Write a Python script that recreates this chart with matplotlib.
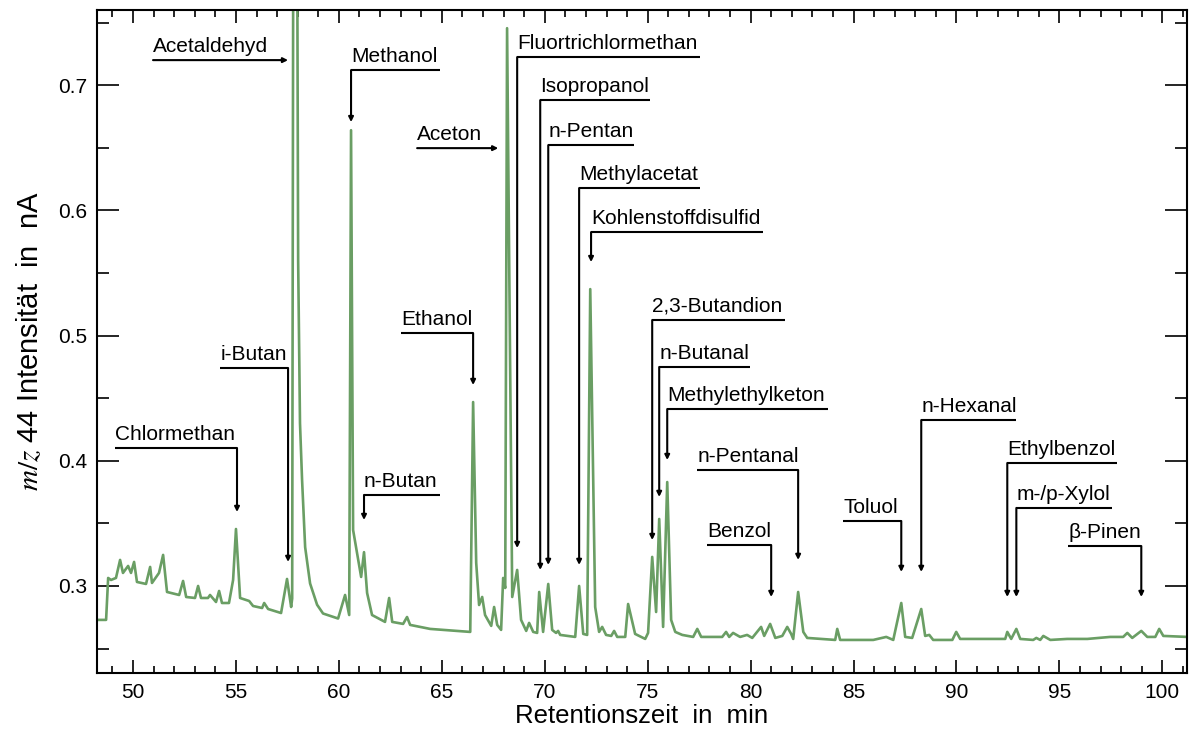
import matplotlib.pyplot as plt
from matplotlib.ticker import MultipleLocator

plt.rcParams['font.family'] = ['Liberation Sans', 'DejaVu Sans']
plt.rcParams['mathtext.fontset'] = 'stix'

# chromatogram trace (retention time in min, m/z 44 signal in nA)
rt = [48.20, 48.69, 48.79, 48.93, 49.17, 49.37, 49.51, 49.76, 49.90, 50.05,
      50.19, 50.63, 50.83, 50.92, 51.26, 51.46, 51.65, 52.24, 52.43, 52.58,
      53.01, 53.16, 53.30, 53.64, 53.74, 54.03, 54.18, 54.32, 54.66, 54.86,
      55.00, 55.20, 55.64, 55.83, 56.27, 56.37, 56.56, 57.19, 57.48, 57.68,
      57.73, 57.80, 57.94, 58.02, 58.11, 58.21, 58.36, 58.60, 58.94, 59.23,
      59.96, 60.30, 60.50, 60.59, 60.69, 61.08, 61.22, 61.37, 61.61, 62.24,
      62.44, 62.59, 63.12, 63.31, 63.46, 64.43, 66.38, 66.52, 66.67, 66.81,
      66.96, 67.10, 67.40, 67.54, 67.69, 67.88, 67.98, 68.08, 68.17, 68.42,
      68.66, 68.85, 69.10, 69.24, 69.44, 69.63, 69.73, 69.92, 70.17, 70.36,
      70.55, 70.65, 70.75, 71.48, 71.67, 71.87, 72.06, 72.21, 72.45, 72.64,
      72.79, 72.98, 73.23, 73.37, 73.52, 73.91, 74.05, 74.20, 74.39, 74.88,
      75.02, 75.22, 75.41, 75.56, 75.75, 75.95, 76.14, 76.34, 76.68, 77.21,
      77.41, 77.60, 78.62, 78.81, 78.96, 79.15, 79.49, 79.83, 80.08, 80.51,
      80.66, 80.95, 81.20, 81.54, 81.78, 81.97, 82.07, 82.31, 82.56, 82.75,
      84.11, 84.21, 84.35, 85.18, 85.96, 86.59, 86.93, 87.32, 87.51, 87.85,
      88.29, 88.48, 88.68, 88.87, 89.80, 89.99, 90.18, 92.37, 92.47, 92.66,
      92.91, 93.10, 93.73, 93.88, 94.07, 94.22, 94.56, 95.38, 96.36, 97.47,
      98.10, 98.30, 98.54, 98.98, 99.27, 99.66, 99.85, 100.05, 101.21]
signal = [0.2729, 0.2729, 0.3064, 0.3048, 0.3064, 0.3208, 0.3104, 0.3160, 0.3104, 0.3192,
          0.3032, 0.3016, 0.3152, 0.3024, 0.3104, 0.3248, 0.2952, 0.2928, 0.3040, 0.2912,
          0.2904, 0.3000, 0.2904, 0.2904, 0.2928, 0.2872, 0.2960, 0.2864, 0.2864, 0.3048,
          0.3455, 0.2904, 0.2880, 0.2840, 0.2824, 0.2864, 0.2816, 0.2784, 0.3056, 0.2832,
          0.2900, 1.0000, 1.0000, 0.5600, 0.4300, 0.3850, 0.3310, 0.3020, 0.2850, 0.2780,
          0.2740, 0.2928, 0.2768, 0.6640, 0.3447, 0.3072, 0.3270, 0.2944, 0.2768, 0.2713,
          0.2904, 0.2713, 0.2697, 0.2752, 0.2689, 0.2657, 0.2633, 0.4469, 0.3184, 0.2848,
          0.2912, 0.2768, 0.2681, 0.2832, 0.2689, 0.2649, 0.3064, 0.2984, 0.7455, 0.2912,
          0.3128, 0.2729, 0.2641, 0.2705, 0.2633, 0.2625, 0.2952, 0.2633, 0.3016, 0.2649,
          0.2625, 0.2641, 0.2609, 0.2593, 0.3000, 0.2617, 0.2609, 0.5371, 0.2832, 0.2633,
          0.2673, 0.2609, 0.2601, 0.2641, 0.2593, 0.2593, 0.2856, 0.2752, 0.2617, 0.2577,
          0.2625, 0.3232, 0.2792, 0.3535, 0.2673, 0.3830, 0.2729, 0.2633, 0.2609, 0.2593,
          0.2657, 0.2593, 0.2593, 0.2633, 0.2593, 0.2625, 0.2593, 0.2609, 0.2585, 0.2673,
          0.2601, 0.2697, 0.2585, 0.2601, 0.2673, 0.2617, 0.2577, 0.2952, 0.2633, 0.2585,
          0.2569, 0.2657, 0.2569, 0.2569, 0.2569, 0.2593, 0.2569, 0.2864, 0.2593, 0.2585,
          0.2816, 0.2601, 0.2609, 0.2569, 0.2569, 0.2633, 0.2577, 0.2577, 0.2633, 0.2577,
          0.2657, 0.2577, 0.2569, 0.2585, 0.2569, 0.2601, 0.2569, 0.2577, 0.2577, 0.2593,
          0.2593, 0.2625, 0.2585, 0.2641, 0.2593, 0.2593, 0.2657, 0.2601, 0.2593]

# peak labels: name, arrow tip (x, y), shelf height, far end of shelf
names = ["Chlormethan", "i-Butan", "Methanol", "n-Butan", "Ethanol",
         "Fluortrichlormethan", "Isopropanol", "n-Pentan", "Methylacetat",
         "Kohlenstoffdisulfid", "2,3-Butandion", "n-Butanal", "Methylethylketon",
         "n-Pentanal", "Benzol", "Toluol", "n-Hexanal", "Ethylbenzol",
         "m-/p-Xylol", "β-Pinen"]
tip_x = [55.05, 57.53, 60.59, 61.22, 66.52, 68.66, 69.78, 70.17, 71.67, 72.25,
         75.22, 75.56, 75.95, 82.31, 81.00, 87.32, 88.29, 92.47, 92.91, 98.98]
tip_y = [0.3591, 0.3192, 0.6705, 0.3527, 0.4605, 0.3303, 0.3128, 0.3168, 0.3168, 0.5587,
         0.3367, 0.3711, 0.4006, 0.3208, 0.2912, 0.3112, 0.3112, 0.2912, 0.2912, 0.2912]
shelf_y = [0.4102, 0.4741, 0.7120, 0.3727, 0.5020, 0.7224, 0.6880, 0.6521, 0.6178, 0.5826,
           0.5124, 0.4749, 0.4413, 0.3926, 0.3327, 0.3519, 0.4325, 0.3982, 0.3623, 0.3319]
shelf_end = [49.13, 54.23, 64.92, 64.92, 63.02, 77.55, 75.12, 74.34, 77.55, 80.61,
             81.68, 79.98, 83.77, 77.41, 77.89, 84.50, 92.91, 97.81, 97.57, 95.43]

# labels with a horizontal arrow: name, line y, start x, end x
h_names = ["Acetaldehyd", "Aceton"]
h_y = [0.720, 0.6497]
h_x0 = [50.97, 63.80]
h_x1 = [57.53, 67.74]

fig = plt.figure(figsize=(11.95, 7.38), dpi=100)
ax = fig.add_axes([0.0812, 0.0881, 0.9121, 0.8983])

ax.plot(rt, signal, color='#6a9e64', lw=1.9, zorder=2)

arrow_kw = dict(arrowstyle='-|>', mutation_scale=7, lw=1.5, color='black',
                shrinkA=0, shrinkB=0)
for name, x, y, sy, ex in zip(names, tip_x, tip_y, shelf_y, shelf_end):
    ax.plot([ex, x], [sy, sy], color='black', lw=1.5, solid_capstyle='butt')
    ax.annotate('', xy=(x, y), xytext=(x, sy), arrowprops=arrow_kw)
    ax.annotate(name, xy=(min(x, ex), sy), xytext=(0, 3), textcoords='offset points',
                ha='left', va='bottom', fontsize=15)

for name, y, x0, x1 in zip(h_names, h_y, h_x0, h_x1):
    ax.annotate('', xy=(x1, y), xytext=(x0, y), arrowprops=arrow_kw)
    ax.annotate(name, xy=(x0, y), xytext=(0, 3), textcoords='offset points',
                ha='left', va='bottom', fontsize=15)

ax.set_xlim(48.25, 101.2)
ax.set_ylim(0.2305, 0.76)
ax.xaxis.set_major_locator(MultipleLocator(5))
ax.xaxis.set_minor_locator(MultipleLocator(1))
ax.yaxis.set_major_locator(MultipleLocator(0.1))
ax.yaxis.set_minor_locator(MultipleLocator(0.05))
ax.tick_params(axis='both', which='both', direction='in', top=True, right=True,
               width=1.2, labelsize=15)
ax.tick_params(axis='x', which='major', length=9.5, pad=7)
ax.tick_params(axis='x', which='minor', length=5)
ax.tick_params(axis='y', which='major', length=16, pad=7)
ax.tick_params(axis='y', which='minor', length=8.5)
for s in ax.spines.values():
    s.set_linewidth(1.5)

ax.set_xlabel('Retentionszeit  in  min', fontsize=18.5, labelpad=2)
ax.set_ylabel(r'$m/z$ 44 Intensität  in  nA', fontsize=21, labelpad=10)

fig.savefig('out.png', dpi=100)
